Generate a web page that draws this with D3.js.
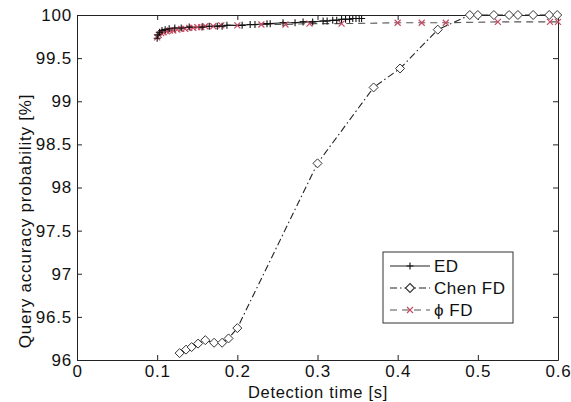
<!DOCTYPE html>
<html>
<head>
<meta charset="utf-8">
<script src="https://cdn.jsdelivr.net/npm/d3@7"></script>
<style>
  body { margin: 0; background: #fff; }
  text { font-family: "Liberation Sans", Arial, sans-serif; fill: #111; }
</style>
</head>
<body>
<svg id="chart" width="571" height="402"></svg>
<script>
// ED
const edTime = [0.100, 0.101, 0.103, 0.106, 0.110, 0.115, 0.122, 0.130, 0.140, 0.156, 0.165, 0.175, 0.181, 0.187,
                0.206, 0.216, 0.222, 0.237, 0.241, 0.257, 0.272, 0.282, 0.294, 0.307, 0.312, 0.319, 0.324,
                0.330, 0.335, 0.340, 0.344, 0.348, 0.352, 0.355];
const edAcc = [99.73, 99.77, 99.80, 99.82, 99.83, 99.84, 99.85, 99.85, 99.86, 99.86, 99.87, 99.87, 99.87, 99.88,
               99.88, 99.89, 99.89, 99.90, 99.90, 99.91, 99.91, 99.92, 99.92, 99.93, 99.93, 99.94, 99.94,
               99.95, 99.95, 99.95, 99.96, 99.96, 99.96, 99.96];
// Chen FD
const chenTime = [0.128, 0.136, 0.143, 0.151, 0.160, 0.171, 0.181, 0.189, 0.200, 0.300, 0.370, 0.403, 0.450,
                  0.490, 0.500, 0.520, 0.539, 0.550, 0.569, 0.589, 0.599];
const chenAcc = [96.08, 96.12, 96.15, 96.19, 96.23, 96.20, 96.20, 96.25, 96.37, 98.28, 99.16, 99.38, 99.83,
                 100, 100, 100, 100, 100, 100, 100, 100];
// phi FD
const phiTime = [0.100, 0.102, 0.105, 0.108, 0.112, 0.116, 0.120, 0.125, 0.130, 0.135, 0.140, 0.145, 0.150,
                 0.155, 0.160, 0.170, 0.180, 0.200, 0.230, 0.260, 0.290, 0.330, 0.400, 0.430, 0.460, 0.525, 0.590, 0.600];
const phiAcc = [99.74, 99.77, 99.79, 99.80, 99.81, 99.82, 99.82, 99.83, 99.84, 99.84, 99.85, 99.85, 99.86,
                99.86, 99.87, 99.87, 99.88, 99.88, 99.89, 99.89, 99.90, 99.90, 99.91, 99.91, 99.91, 99.92, 99.92, 99.92];

const xTicks = [0, 0.1, 0.2, 0.3, 0.4, 0.5, 0.6];
const yTicks = [96, 96.5, 97, 97.5, 98, 98.5, 99, 99.5, 100];

const margin = {top: 15, right: 13, bottom: 42, left: 77};
const width = 571 - margin.left - margin.right;
const height = 402 - margin.top - margin.bottom;

const svg = d3.select("#chart");
const g = svg.append("g").attr("transform", `translate(${margin.left},${margin.top})`);

const x = d3.scaleLinear().domain([0, 0.6]).range([0, width]);
const y = d3.scaleLinear().domain([96, 100]).range([height, 0]);

// 축 (MATLAB 스타일: 안쪽 눈금, 네 면 모두)
const fmt = d => String(d);
const tickFont = g => g.selectAll("text")
    .style("font-size", "17px").style("letter-spacing", "0.8px").attr("fill", "#111");

g.append("g").attr("transform", `translate(0,${height})`)
    .call(d3.axisBottom(x).tickValues(xTicks).tickFormat(fmt).tickSizeInner(-5).tickSizeOuter(0).tickPadding(5))
    .call(tickFont);
g.append("g")
    .call(d3.axisLeft(y).tickValues(yTicks).tickFormat(fmt).tickSizeInner(-5).tickSizeOuter(0).tickPadding(5))
    .call(tickFont);
g.append("g")
    .call(d3.axisTop(x).tickValues(xTicks).tickFormat("").tickSizeInner(-5).tickSizeOuter(0));
g.append("g").attr("transform", `translate(${width},0)`)
    .call(d3.axisRight(y).tickValues(yTicks).tickFormat("").tickSizeInner(-5).tickSizeOuter(0));
g.selectAll(".domain").attr("stroke", "#222");
g.selectAll(".tick line").attr("stroke", "#222");

// 데이터 선
const line = d3.line().x(d => x(d[0])).y(d => y(d[1]));
const edData = edTime.map((t, i) => [t, edAcc[i]]);
const chenData = chenTime.map((t, i) => [t, chenAcc[i]]);
const phiData = phiTime.map((t, i) => [t, phiAcc[i]]);

const plus = "M-3.5,0H3.5M0,-3.5V3.5";
const cross = "M-3,-3L3,3M-3,3L3,-3";
const diamond = "M0,-4.5L4.5,0L0,4.5L-4.5,0Z";

g.append("path").datum(chenData).attr("d", line)
    .attr("fill", "none").attr("stroke", "#222").attr("stroke-width", 1.1)
    .attr("stroke-dasharray", "7,3,1.5,3");
g.append("path").datum(phiData).attr("d", line)
    .attr("fill", "none").attr("stroke", "#555").attr("stroke-width", 1.1)
    .attr("stroke-dasharray", "7,5");
g.append("path").datum(edData).attr("d", line)
    .attr("fill", "none").attr("stroke", "#222").attr("stroke-width", 1.1);

g.selectAll(".chen").data(chenData).enter().append("path")
    .attr("transform", d => `translate(${x(d[0])},${y(d[1])})`)
    .attr("d", diamond).attr("fill", "#fff").attr("stroke", "#333").attr("stroke-width", 1);
g.selectAll(".phi").data(phiData).enter().append("path")
    .attr("transform", d => `translate(${x(d[0])},${y(d[1])})`)
    .attr("d", cross).attr("fill", "none").attr("stroke", "#c84a62").attr("stroke-width", 1.2);
g.selectAll(".ed").data(edData).enter().append("path")
    .attr("transform", d => `translate(${x(d[0])},${y(d[1])})`)
    .attr("d", plus).attr("fill", "none").attr("stroke", "#111").attr("stroke-width", 1.1);

// 범례
const legend = g.append("g").attr("transform", `translate(${383 - margin.left},${252 - margin.top})`);
legend.append("rect").attr("width", 130).attr("height", 71)
    .attr("fill", "#fff").attr("stroke", "#333").attr("stroke-width", 1);
const items = [
  {name: "ED", dash: null, stroke: "#222", mark: plus, mStroke: "#111", mFill: "none"},
  {name: "Chen FD", dash: "7,3,1.5,3", stroke: "#222", mark: diamond, mStroke: "#333", mFill: "#fff"},
  {name: "\u03d5 FD", dash: "7,5", stroke: "#555", mark: cross, mStroke: "#c84a62", mFill: "none"}
];
items.forEach((it, i) => {
  const yy = 14 + i * 22;
  legend.append("line").attr("x1", 7).attr("x2", 47).attr("y1", yy).attr("y2", yy)
      .attr("stroke", it.stroke).attr("stroke-width", 1.1).attr("stroke-dasharray", it.dash);
  legend.append("path").attr("transform", `translate(27,${yy})`).attr("d", it.mark)
      .attr("fill", it.mFill).attr("stroke", it.mStroke).attr("stroke-width", 1.1);
  legend.append("text").attr("x", 51).attr("y", yy + 6).text(it.name)
      .style("font-size", "17px").style("letter-spacing", "0.5px");
});

// 축 제목
svg.append("text").attr("x", 318).attr("y", 398).attr("text-anchor", "middle")
    .style("font-size", "16.5px").style("letter-spacing", "0.7px").text("Detection time [s]");
svg.append("text").attr("transform", "translate(31,221) rotate(-90)").attr("text-anchor", "middle")
    .style("font-size", "17px").style("letter-spacing", "0.8px").text("Query accuracy probability [%]");
</script>
</body>
</html>
